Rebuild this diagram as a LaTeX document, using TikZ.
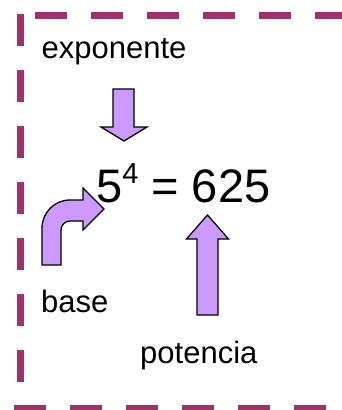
\documentclass[tikz,border=0pt]{standalone}
\usepackage{fontspec}
\setmainfont{Liberation Sans}
\usetikzlibrary{calc}
\definecolor{framepurple}{RGB}{160,50,105}
\definecolor{arrowlilac}{RGB}{204,153,255}
\tikzstyle{frameline}=[draw=framepurple,line width=7pt,dash pattern=on 32pt off 24pt]
\tikzstyle{blockarrow}=[draw=black,fill=arrowlilac,line width=1.3pt,line join=miter]
\tikzstyle{term}=[inner sep=0pt,anchor=base west,font=\fontsize{31}{36}\selectfont]
\tikzstyle{formula}=[inner sep=0pt,anchor=base west,font=\fontsize{47}{52}\selectfont]

\begin{document}
\begin{tikzpicture}[x=1pt,y=-1pt]
\def \top {15};
\def \left {20};
\def \bottom {408};
\useasboundingbox (0,0) rectangle (342,410);
\clip (0,0) rectangle (342,410);

% dashed frame
\draw[frameline] (35,\top) -- (360,\top);
\draw[frameline] (\left,14) -- (\left,420);
\draw[frameline] (14,\bottom) -- (360,\bottom);

\node[term] (expo) at (41.5,58) {exponente};
\node[formula] (eq) at (96,202) {5\raisebox{19pt}{\fontsize{29}{30}\selectfont 4} = 625};
\node[term] (base) at (41,312) {base};
\node[term] (pot) at (140,363) {potencia};

% exponent arrow
\draw[blockarrow] (113,89) -- (134,89) -- (134,127) -- (147,127) -- (124,141)
	-- (101,127) -- (113,127) -- cycle;

% base arrow
\draw[blockarrow] (42,265) -- (42,228) arc (180:90:28pt) -- (83,200) -- (83,188)
	-- (104,209) -- (83,230) -- (83,221) -- (70,221) arc (90:180:9pt) -- (61,265) -- cycle;

% power arrow
\draw[blockarrow] (197,315) -- (218,315) -- (218,239) -- (228.5,239) -- (207.5,215)
	-- (186.5,239) -- (197,239) -- cycle;

\end{tikzpicture}
\end{document}
